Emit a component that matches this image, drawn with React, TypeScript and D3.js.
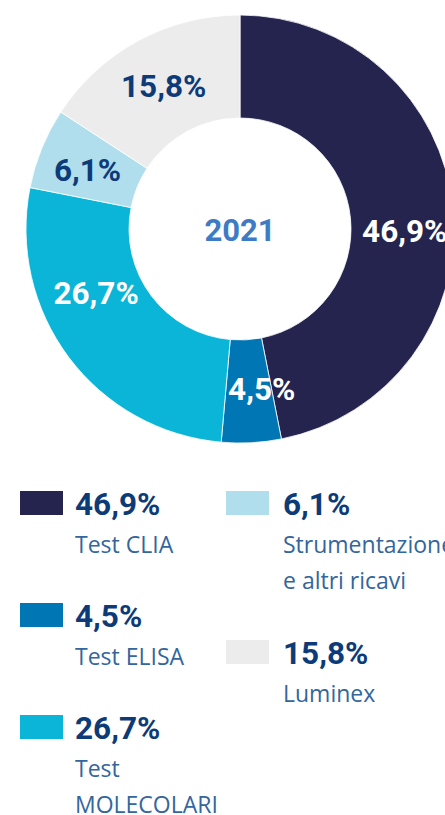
import { useEffect, useRef } from "react";
import * as d3 from "d3";

// slices, clockwise from 12 o'clock
const categories = ["Test CLIA", "Test ELISA", "Test MOLECOLARI", "Strumentazione e altri ricavi", "Luminex"];
const values = [46.9, 4.5, 26.7, 6.1, 15.8];
const valueLabels = ["46,9%", "4,5%", "26,7%", "6,1%", "15,8%"];
const sliceColors = ["#24244f", "#0076b5", "#0ab5d8", "#b0deec", "#ececec"];
const labelColors = ["#ffffff", "#ffffff", "#ffffff", "#0d3b78", "#0d3b78"];
// legend description lines, same order as the slices
const legendLines = [["Test CLIA"], ["Test ELISA"], ["Test", "MOLECOLARI"], ["Strumentazione", "e altri ricavi"], ["Luminex"]];
const centerLabel = "2021";

// small nudges from the arc centroid for the in-ring labels
const labelShift: [number, number][] = [
  [3, 17],
  [13, -3],
  [-14, -34],
  [-2, 2],
  [1, 0],
];

const W = 445;
const H = 815;

export default function App() {
  const svgRef = useRef<SVGSVGElement>(null);

  useEffect(() => {
    if (!svgRef.current) return;
    const svg = d3.select(svgRef.current);
    svg.selectAll("*").remove();

    const cx = 240;
    const cy = 229;
    const outerR = 214;
    const innerR = 111;

    const pie = d3.pie<number>().value((d) => d).sort(null);
    const arcs = pie(values);
    const arc = d3.arc<d3.PieArcDatum<number>>().innerRadius(innerR).outerRadius(outerR);

    const g = svg.append("g").attr("transform", `translate(${cx},${cy})`);

    g.selectAll("path")
      .data(arcs)
      .enter()
      .append("path")
      .attr("d", arc)
      .attr("fill", (_d, i) => sliceColors[i])
      .attr("stroke", "#fff")
      .attr("stroke-width", 0.8);

    g.selectAll("text.val")
      .data(arcs)
      .enter()
      .append("text")
      .attr("class", "val")
      .attr("x", (d, i) => arc.centroid(d)[0] + labelShift[i][0])
      .attr("y", (d, i) => arc.centroid(d)[1] + labelShift[i][1])
      .attr("dy", "0.36em")
      .attr("text-anchor", "middle")
      .style("font-family", "Roboto, sans-serif")
      .style("font-weight", 700)
      .style("font-size", "31.5px")
      .style("fill", (_d, i) => labelColors[i])
      .text((_d, i) => valueLabels[i]);

    g.append("text")
      .attr("x", 0)
      .attr("y", 1)
      .attr("dy", "0.36em")
      .attr("text-anchor", "middle")
      .style("font-family", "Roboto, sans-serif")
      .style("font-weight", 700)
      .style("font-size", "31px")
      .style("fill", "#3d7cc4")
      .text(centerLabel);

    // legend: two columns
    const columns = [
      { items: [0, 1, 2], swatchX: 20, textX: 75, rows: [515, 627, 739] },
      { items: [3, 4], swatchX: 226, textX: 283, rows: [515, 664] },
    ];

    columns.forEach((col) => {
      col.items.forEach((idx, r) => {
        const base = col.rows[r];
        const item = svg.append("g");
        item
          .append("rect")
          .attr("x", col.swatchX)
          .attr("y", base - 24)
          .attr("width", 43)
          .attr("height", 24)
          .attr("fill", sliceColors[idx]);
        item
          .append("text")
          .attr("x", col.textX)
          .attr("y", base)
          .style("font-family", "Roboto, sans-serif")
          .style("font-weight", 700)
          .style("font-size", "31.5px")
          .style("fill", "#0d3b78")
          .text(valueLabels[idx]);
        legendLines[idx].forEach((line, j) => {
          item
            .append("text")
            .attr("x", col.textX)
            .attr("y", base + 38 + j * 36)
            .style("font-family", "'Open Sans', sans-serif")
            .style("font-weight", 400)
            .style("font-size", "23px")
            .style("fill", "#33669c")
            .text(line);
        });
        item.append("title").text(categories[idx]);
      });
    });
  }, []);

  return (
    <svg
      ref={svgRef}
      width={W}
      height={H}
      style={{ position: "absolute", left: 0, top: 0, background: "#fff", display: "block" }}
    />
  );
}
